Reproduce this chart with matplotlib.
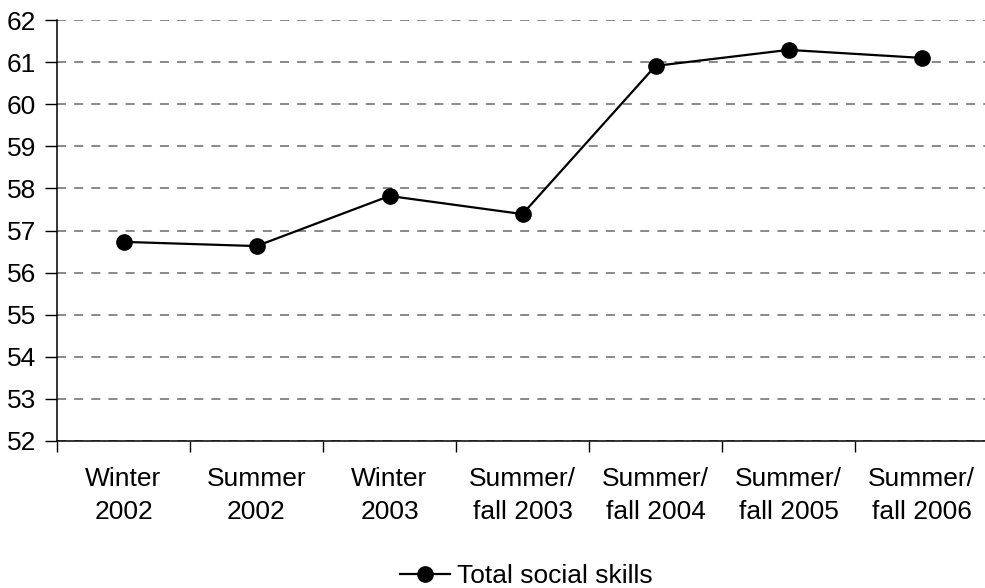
import matplotlib
matplotlib.use("Agg")
import matplotlib.pyplot as plt
import numpy as np

plt.rcParams['font.family'] = ['Liberation Sans', 'DejaVu Sans']

categories = ["Winter\n2002", "Summer\n2002", "Winter\n2003", "Summer/\nfall 2003",
              "Summer/\nfall 2004", "Summer/\nfall 2005", "Summer/\nfall 2006"]
total_social_skills = [56.73, 56.63, 57.82, 57.39, 60.91, 61.29, 61.10]
y_ticks = list(range(52, 63))

fig = plt.figure(figsize=(9.85, 5.88), dpi=100)
ax = fig.add_axes([57 / 985, 1 - 441 / 588, 931 / 985, 421 / 588])

x = np.arange(len(categories))
line, = ax.plot(x, total_social_skills, color='black', linewidth=1.6,
                marker='o', markersize=11, markerfacecolor='black',
                markeredgecolor='black', label='Total social skills', zorder=3)

ax.set_xlim(-0.5, len(categories) - 0.5)
ax.set_ylim(52, 62)
ax.set_yticks(y_ticks)
ax.set_yticklabels([str(v) for v in y_ticks], fontsize=19)

# category boundaries carry the tick marks, centers carry the labels
ax.set_xticks(np.arange(-0.5, len(categories) + 0.5, 1.0))
ax.set_xticklabels([])
ax.set_xticks(x, minor=True)
ax.set_xticklabels(categories, minor=True, fontsize=19, linespacing=1.45)
ax.tick_params(axis='x', which='major', length=8, width=1, color='black')
ax.tick_params(axis='x', which='minor', length=0, pad=19)
ax.tick_params(axis='y', length=9, width=1, pad=6)

ax.yaxis.grid(True, color='#808080', linestyle=(0, (5, 4.5)), linewidth=1.3)
ax.set_axisbelow(True)

for side in ('top', 'right'):
    ax.spines[side].set_visible(False)
for side in ('left', 'bottom'):
    ax.spines[side].set_linewidth(1.1)
    ax.spines[side].set_color('black')

fig.legend(handles=[line], loc='center', bbox_to_anchor=(0.534, 1 - 576 / 588),
           frameon=False, fontsize=19, handlelength=1.9, handletextpad=0.25,
           borderpad=0)

fig.savefig("out.png", dpi=100)
